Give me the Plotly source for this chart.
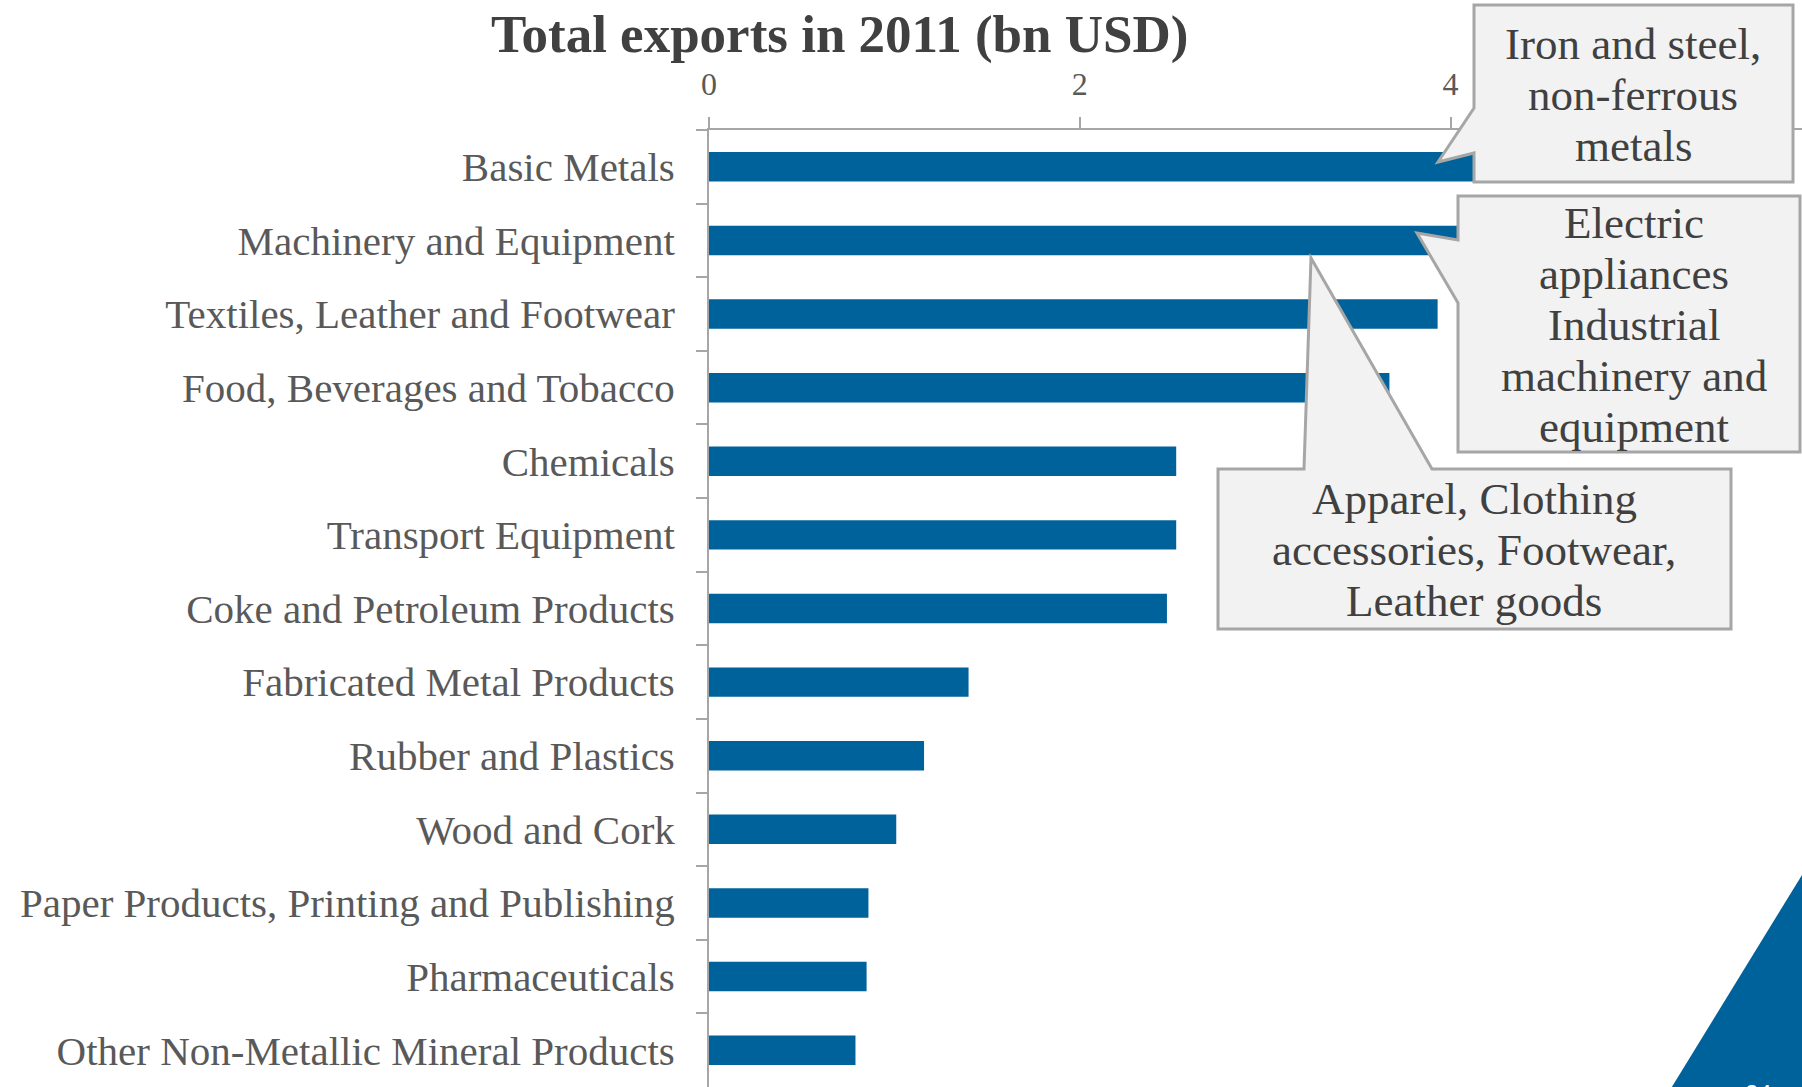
import plotly.graph_objects as go

# ---- data -------------------------------------------------------------
categories = [
    "Basic Metals",
    "Machinery and Equipment",
    "Textiles, Leather and Footwear",
    "Food, Beverages and Tobacco",
    "Chemicals",
    "Transport Equipment",
    "Coke and Petroleum Products",
    "Fabricated Metal Products",
    "Rubber and Plastics",
    "Wood and Cork",
    "Paper Products, Printing and Publishing",
    "Pharmaceuticals",
    "Other Non-Metallic Mineral Products",
]
exports_bn_usd = [4.45, 4.20, 3.93, 3.67, 2.52, 2.52, 2.47, 1.40, 1.16, 1.01, 0.86, 0.85, 0.79]
x_tick_values = [0, 2, 4]

title_text = "Total exports in 2011 (bn USD)"
callout_iron = ["Iron and steel,", "non-ferrous", "metals"]
callout_machinery = ["Electric", "appliances", "Industrial", "machinery and", "equipment"]
callout_apparel = ["Apparel, Clothing", "accessories, Footwear,", "Leather goods"]
page_number = "24"

# ---- page geometry (pixels) ------------------------------------------
W, H = 1802, 1087
M_LEFT, M_TOP = 709, 130
PLOT_W, PLOT_H = W - M_LEFT, H - M_TOP
PX_PER_UNIT = 185.4
LINE_STEP = 51

SERIF = "Georgia, 'Liberation Serif', 'DejaVu Serif', serif"
BAR_BLUE = "#00629b"
AXIS_GRAY = "#a6a6a6"
LABEL_GRAY = "#595959"
DARK_TEXT = "#404040"
CALLOUT_FILL = "#f2f2f2"


def px(x):
    return (x - M_LEFT) / PLOT_W


def py(y):
    return (H - y) / PLOT_H


def poly_path(points):
    pts = [f"{px(x):.5f},{py(y):.5f}" for x, y in points]
    return "M " + " L ".join(pts) + " Z"


fig = go.Figure(
    go.Bar(
        x=exports_bn_usd,
        y=categories,
        orientation="h",
        marker=dict(color=BAR_BLUE, line=dict(width=0)),
        width=0.4,
        hoverinfo="x+y",
    )
)

fig.update_layout(
    width=W,
    height=H,
    autosize=False,
    margin=dict(l=M_LEFT, r=0, t=M_TOP, b=0, pad=0),
    paper_bgcolor="white",
    plot_bgcolor="white",
    showlegend=False,
    font=dict(family=SERIF, color=LABEL_GRAY),
    xaxis=dict(
        side="top",
        range=[0, PLOT_W / PX_PER_UNIT],
        tickvals=x_tick_values,
        ticks="outside",
        ticklen=11,
        tickwidth=2,
        tickcolor=AXIS_GRAY,
        showline=True,
        linecolor=AXIS_GRAY,
        linewidth=2,
        showgrid=False,
        zeroline=False,
        tickfont=dict(family=SERIF, size=32, color=LABEL_GRAY),
        ticklabelstandoff=9,
        fixedrange=True,
    ),
    yaxis=dict(
        autorange="reversed",
        tickson="boundaries",
        ticks="outside",
        ticklen=11,
        tickwidth=2,
        tickcolor=AXIS_GRAY,
        showline=True,
        linecolor=AXIS_GRAY,
        linewidth=2,
        showgrid=False,
        zeroline=False,
        tickfont=dict(family=SERIF, size=41, color=LABEL_GRAY),
        ticklabelstandoff=24,
        fixedrange=True,
    ),
)

# chart title
fig.add_annotation(
    text=f"<b>{title_text}</b>",
    xref="paper", yref="paper",
    x=px(839), y=py(35),
    xanchor="center", yanchor="middle",
    showarrow=False,
    font=dict(family=SERIF, size=53, color=DARK_TEXT),
)

# callout balloons: box outline with a pointer toward the bars
callouts = [
    dict(
        outline=[(1474, 5), (1793, 5), (1793, 182), (1474, 182), (1474, 153),
                 (1438, 162), (1474, 108)],
        lines=callout_iron, cx=1633, first_y=44,
    ),
    dict(
        outline=[(1458, 196), (1800, 196), (1800, 452), (1458, 452), (1458, 303),
                 (1417, 233), (1458, 240)],
        lines=callout_machinery, cx=1634, first_y=223,
    ),
    dict(
        outline=[(1218, 469), (1304, 469), (1311, 258), (1432, 469), (1731, 469),
                 (1731, 629), (1218, 629)],
        lines=callout_apparel, cx=1474, first_y=499,
    ),
]
for c in callouts:
    fig.add_shape(
        type="path",
        path=poly_path(c["outline"]),
        xref="paper", yref="paper",
        fillcolor=CALLOUT_FILL,
        line=dict(color=AXIS_GRAY, width=3),
        layer="above",
    )
    for i, line in enumerate(c["lines"]):
        fig.add_annotation(
            text=line,
            xref="paper", yref="paper",
            x=px(c["cx"]), y=py(c["first_y"] + i * LINE_STEP),
            xanchor="center", yanchor="middle",
            align="center",
            showarrow=False,
            font=dict(family=SERIF, size=45, color=DARK_TEXT),
        )

# corner decoration with the page number
fig.add_shape(
    type="path",
    path=poly_path([(1802, 875), (1802, 1090), (1670, 1090)]),
    xref="paper", yref="paper",
    fillcolor=BAR_BLUE,
    line=dict(width=0),
    layer="above",
)
fig.add_annotation(
    text=page_number,
    xref="paper", yref="paper",
    x=px(1758), y=py(1078),
    xanchor="center", yanchor="top",
    showarrow=False,
    font=dict(family="'Liberation Sans', Arial, sans-serif", size=24, color="white"),
)

fig.write_html("out.html", config=dict(displayModeBar=False))
